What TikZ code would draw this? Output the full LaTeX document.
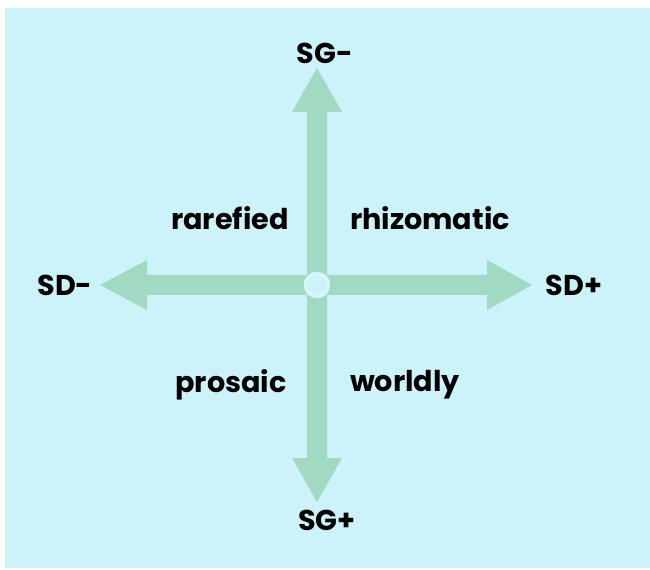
\documentclass[tikz,border=0pt]{standalone}
\usepackage{fontspec}
\setmainfont{Poppins}
\definecolor{bgc}{HTML}{CCF3FA}
\definecolor{arr}{HTML}{A2D9C2}
\definecolor{ring}{HTML}{D9F6F6}
\begin{document}
\begin{tikzpicture}[x=0.75pt,y=-0.75pt,
  lbl/.style={font=\bfseries\fontsize{21.5}{24}\selectfont, text=black, inner sep=0pt},
  axl/.style={font=\bfseries\fontsize{21.5}{24}\selectfont, text=black, inner sep=0pt},
  arrowshape/.style={fill=arr, draw=none}]
\useasboundingbox (0,0) rectangle (650,570);
\fill[white] (0,0) rectangle (650,570);
\fill[bgc] (5,8) rectangle (650,568);
% arrows
\coordinate (c) at (317,285);
\fill[arrowshape] (307,285) -- (307,112) -- (292,112) -- (317,68) -- (342,112) -- (327,112) -- (327,285) -- cycle;
\fill[arrowshape] (307,285) -- (307,458) -- (292,458) -- (317,502) -- (342,458) -- (327,458) -- (327,285) -- cycle;
\fill[arrowshape] (317,275) -- (147,275) -- (147,260) -- (100,285) -- (147,310) -- (147,295) -- (317,295) -- cycle;
\fill[arrowshape] (317,275) -- (487,275) -- (487,260) -- (532,285) -- (487,310) -- (487,295) -- (317,295) -- cycle;
\draw[ring, line width=2.6pt, fill=bgc] (c) circle (11.5);
% labels
\node[axl] (sgm) at (325,53) {SG-};
\node[axl] (sgp) at (327,520) {SG+};
\node[axl] (sdm) at (65,285) {SD-};
\node[axl] (sdp) at (574,285) {SD+};
\node[lbl] (rar) at (230,218) {rarefied};
\node[lbl] (rhi) at (430,218) {rhizomatic};
\node[lbl] (pro) at (231,385) {prosaic};
\node[lbl] (wor) at (405,385) {worldly};
\end{tikzpicture}
\end{document}
